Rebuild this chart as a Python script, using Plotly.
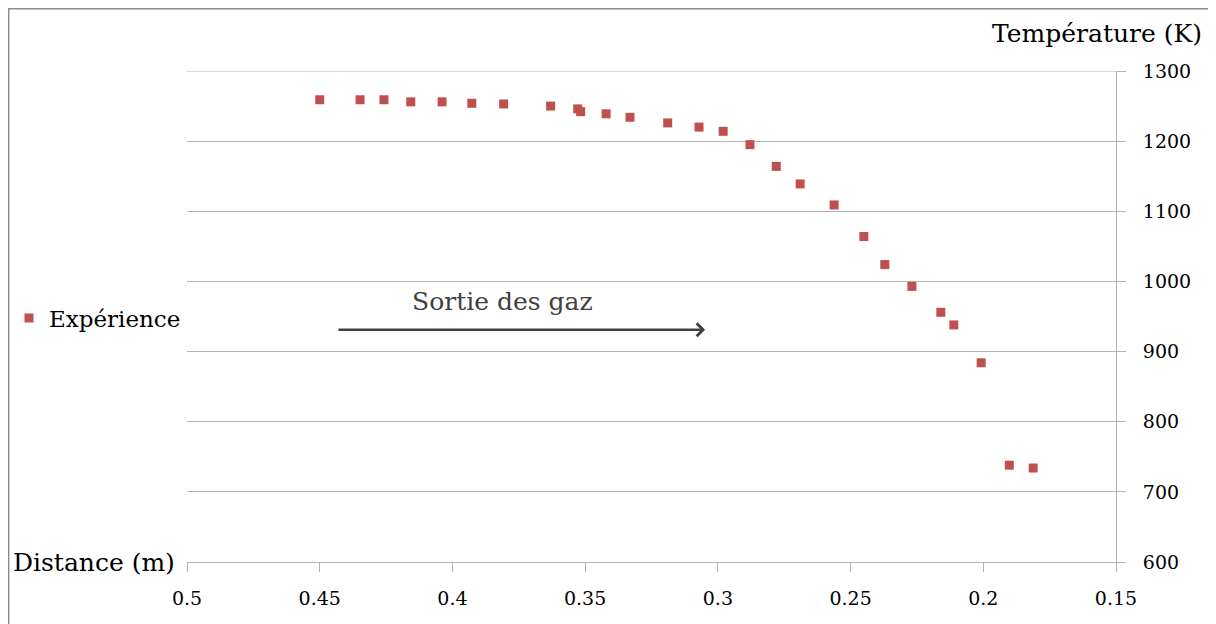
import plotly.graph_objects as go

distance_m = [0.450, 0.4348, 0.4258, 0.4157, 0.4039, 0.3927, 0.3807, 0.3630, 0.3528, 0.3517,
              0.3421, 0.3331, 0.3189, 0.3071, 0.2980, 0.2879, 0.2780, 0.2690, 0.2562, 0.2450,
              0.2371, 0.2269, 0.2160, 0.2111, 0.2008, 0.1902, 0.1812]
temperature_k = [1259, 1259, 1259, 1256, 1256, 1254, 1253, 1250, 1246, 1242,
                 1239, 1234, 1226, 1220, 1214, 1195, 1164, 1139, 1109, 1064,
                 1024, 993, 956, 938, 884, 738, 734]
x_ticks = [0.5, 0.45, 0.4, 0.35, 0.3, 0.25, 0.2, 0.15]
x_tick_labels = ["0.5", "0.45", "0.4", "0.35", "0.3", "0.25", "0.2", "0.15"]
y_ticks = [600, 700, 800, 900, 1000, 1100, 1200, 1300]

FONT = "DejaVu Serif"
GRID = "#B3B3B3"

fig = go.Figure()
fig.add_trace(go.Scatter(
    x=distance_m, y=temperature_k, mode="markers", name="Expérience",
    marker=dict(symbol="square", size=9, color="#C0504D"),
))

# figure is drawn with an 8px page offset; work in page pixels and convert
OFF = 8
W, H = 1208, 616
L, R, T, B = 179, 100, 63, 62
pw, ph = W - L - R, H - T - B

def px(x):
    return (x - OFF - L) / pw

def py(y):
    return (H - B - (y - OFF)) / ph

fig.update_layout(
    width=W, height=H,
    margin=dict(l=L, r=R, t=T, b=B, autoexpand=False),
    paper_bgcolor="white", plot_bgcolor="white",
    font=dict(family=FONT, size=19, color="#000000"),
    showlegend=True,
    legend=dict(xref="container", yref="container",
                x=1 / W, y=1 - (318 - OFF) / H, xanchor="left", yanchor="middle",
                font=dict(family=FONT, size=23, color="#000000"),
                bgcolor="rgba(0,0,0,0)", itemwidth=30),
    xaxis=dict(range=[0.5, 0.15], tickvals=x_ticks, ticktext=x_tick_labels,
               showgrid=False, zeroline=False, showline=True, linecolor=GRID, linewidth=1,
               ticks="outside", ticklen=9, tickcolor=GRID, ticklabelstandoff=10,
               tickfont=dict(family=FONT, size=19, color="#000000")),
    yaxis=dict(range=[600, 1300], tickvals=y_ticks, side="right",
               showgrid=True, gridcolor=GRID, gridwidth=1, zeroline=False,
               showline=True, linecolor=GRID, linewidth=1,
               ticks="outside", ticklen=9, tickcolor=GRID, ticklabelstandoff=13,
               tickfont=dict(family=FONT, size=19, color="#000000")),
    annotations=[
        dict(x=0.3048, y=931, ax=0.4435, ay=931, xref="x", yref="y", axref="x", ayref="y",
             text="", showarrow=True, arrowhead=4, arrowsize=1, arrowwidth=2.5,
             arrowcolor="#404040", standoff=0),
        dict(x=0.381, y=972, xref="x", yref="y", text="Sortie des gaz", showarrow=False,
             font=dict(family=FONT, size=25, color="#404040"), xanchor="center", yanchor="middle"),
        dict(x=px(177), y=py(562), xref="paper", yref="paper", text="Distance (m)",
             showarrow=False, xanchor="right", yanchor="middle",
             font=dict(family=FONT, size=25, color="#000000")),
        dict(x=px(1204), y=py(33), xref="paper", yref="paper", text="Température (K)",
             showarrow=False, xanchor="right", yanchor="middle",
             font=dict(family=FONT, size=25, color="#000000")),
    ],
    shapes=[
        dict(type="rect", xref="paper", yref="paper",
             x0=px(8.7), x1=px(1210), y0=py(640), y1=py(8.7),
             line=dict(color="#8C8C8C", width=1.5), fillcolor="rgba(0,0,0,0)", layer="below"),
        dict(type="line", xref="paper", yref="y", x0=0, x1=1, y0=y_ticks[-1], y1=y_ticks[-1],
             line=dict(color=GRID, width=1), layer="below"),
    ],
)

fig.write_html("out.html")
